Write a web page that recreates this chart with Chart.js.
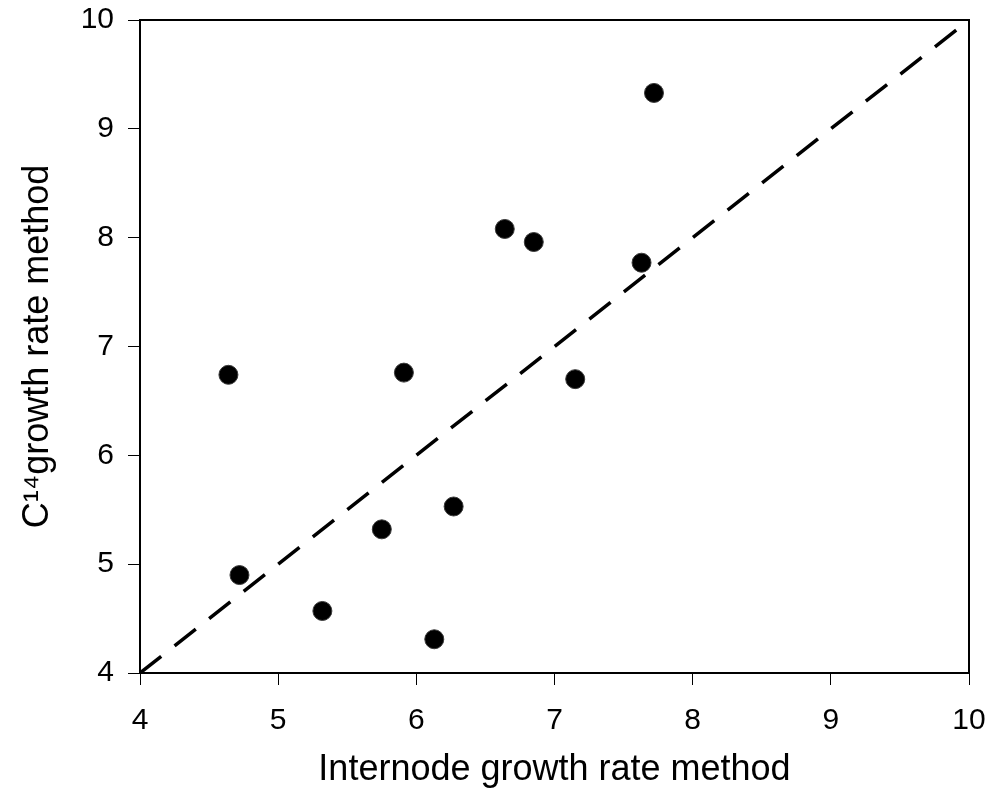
<!DOCTYPE html>
<html>
<head>
<meta charset="utf-8">
<script src="https://cdn.jsdelivr.net/npm/chart.js@4/dist/chart.umd.min.js"></script>
<style>
    html, body { margin: 0; padding: 0; background: #fff; }
    #wrap { width: 992px; height: 792px; }
</style>
</head>
<body>
<div id="wrap"><canvas id="chart"></canvas></div>
<script>
const internodeRate = [4.64, 4.72, 5.32, 5.75, 5.91, 6.13, 6.27, 6.64, 6.85, 7.15, 7.63, 7.72];
const c14Rate       = [6.74, 4.90, 4.57, 5.32, 6.76, 4.31, 5.53, 8.08, 7.96, 6.70, 7.77, 9.33];

// 1:1 reference line
const refX = [4, 9.93];
const refY = [4, 9.93];

const axisMin = 4;
const axisMax = 10;

const FONT = '"Liberation Sans", Arial, sans-serif';

const boxPlugin = {
    id: 'box',
    afterDraw(chart) {
        const { ctx, chartArea: a } = chart;
        ctx.save();
        ctx.strokeStyle = '#000';
        ctx.lineWidth = 2;
        ctx.strokeRect(a.left, a.top, a.right - a.left, a.bottom - a.top);
        ctx.restore();
    }
};

const ctx = document.getElementById('chart');

new Chart(ctx, {
    type: 'scatter',
    data: {
        datasets: [
            {
                label: 'samples',
                data: internodeRate.map((x, i) => ({ x, y: c14Rate[i] })),
                backgroundColor: '#000',
                borderColor: '#3a3a3a',
                borderWidth: 1,
                pointRadius: 9.5,
                order: 0
            },
            {
                type: 'line',
                label: '1:1',
                data: refX.map((x, i) => ({ x, y: refY[i] })),
                borderColor: '#000',
                borderWidth: 3.5,
                borderDash: [27, 17],
                borderCapStyle: 'butt',
                pointRadius: 0,
                fill: false,
                order: 1
            }
        ]
    },
    options: {
        responsive: true,
        maintainAspectRatio: false,
        animation: false,
        layout: { padding: { top: 20, right: 23, left: 0, bottom: 0 } },
        plugins: {
            legend: { display: false },
            tooltip: { enabled: false }
        },
        scales: {
            x: {
                type: 'linear',
                min: axisMin,
                max: axisMax,
                afterFit: s => {
                    s.height = 119;
                    s.paddingLeft = 0;
                    s.paddingRight = 0;
                },
                border: { display: true, color: '#000', width: 2 },
                grid: { drawOnChartArea: false, drawTicks: true, tickLength: 12, color: '#000', lineWidth: 1 },
                ticks: { stepSize: 1, color: '#000', font: { family: FONT, size: 30 }, padding: 18 },
                title: {
                    display: true,
                    text: 'Internode growth rate method',
                    color: '#000',
                    font: { family: FONT, size: 36 },
                    padding: { top: 0, bottom: 0 }
                }
            },
            y: {
                type: 'linear',
                min: axisMin,
                max: axisMax,
                afterFit: s => {
                    s.width = 140;
                    s.paddingTop = 0;
                    s.paddingBottom = 0;
                },
                border: { display: true, color: '#000', width: 2 },
                grid: { drawOnChartArea: false, drawTicks: true, tickLength: 12, color: '#000', lineWidth: 1 },
                ticks: { stepSize: 1, color: '#000', font: { family: FONT, size: 30 }, padding: 14 },
                title: {
                    display: true,
                    text: 'C¹⁴growth rate method',
                    color: '#000',
                    font: { family: FONT, size: 36 },
                    padding: { top: 16, bottom: 0 }
                }
            }
        }
    },
    plugins: [boxPlugin]
});
</script>
</body>
</html>
